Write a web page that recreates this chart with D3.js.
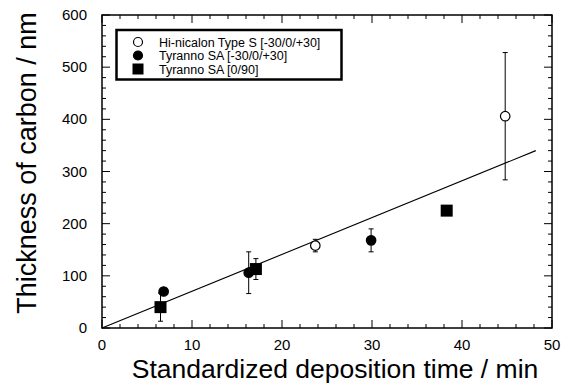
<!DOCTYPE html>
<html>
<head>
<meta charset="utf-8">
<script src="https://cdn.jsdelivr.net/npm/d3@7"></script>
<style>
  html, body { margin: 0; padding: 0; background: #fff; }
  svg { display: block; font-family: "Liberation Sans", Arial, Helvetica, sans-serif; }
</style>
</head>
<body>
<svg id="chart" width="565" height="387"></svg>
<script>
// Carbon thickness vs. standardized deposition time
const seriesNames = ["Hi-nicalon Type S [-30/0/+30]", "Tyranno SA [-30/0/+30]", "Tyranno SA [0/90]"];
const seriesShapes = ["openCircle", "filledCircle", "filledSquare"];

// [time (min), thickness (nm), error (nm)]
const hiNicalon = [[23.7, 158, 12], [44.8, 406, 122]];
const tyrannoSA30 = [[6.85, 70, 0], [16.3, 106, 40], [29.9, 168, 22]];
const tyrannoSA090 = [[6.5, 40, 27], [17.1, 113, 20], [38.3, 225, 0]];

// Linear fit through the origin
const fitLine = [[0, 0], [48.2, 340]];

const xTicks = [0, 10, 20, 30, 40, 50];
const yTicks = [0, 100, 200, 300, 400, 500, 600];
const xMinor = d3.range(0, 50.01, 2);
const yMinor = d3.range(0, 600.01, 20);

const svg = d3.select("#chart");
const L = 102, R = 552, T = 15, B = 328;
const x = d3.scaleLinear().domain([0, 50]).range([L, R]);
const y = d3.scaleLinear().domain([0, 600]).range([B, T]);

const ink = "#000";

// Frame
svg.append("rect").attr("x", L).attr("y", T).attr("width", R - L).attr("height", B - T)
  .attr("fill", "none").attr("stroke", ink).attr("stroke-width", 1.5);

// Inward ticks on all four sides
const tickG = svg.append("g").attr("stroke", ink).attr("stroke-width", 1);
const majorLen = 8, minorLen = 4;
xMinor.forEach(v => {
  const len = xTicks.includes(v) ? majorLen : minorLen;
  tickG.append("line").attr("x1", x(v)).attr("x2", x(v)).attr("y1", B).attr("y2", B - len);
  tickG.append("line").attr("x1", x(v)).attr("x2", x(v)).attr("y1", T).attr("y2", T + len);
});
yMinor.forEach(v => {
  const len = yTicks.includes(v) ? majorLen : minorLen;
  tickG.append("line").attr("x1", L).attr("x2", L + len).attr("y1", y(v)).attr("y2", y(v));
  tickG.append("line").attr("x1", R).attr("x2", R - len).attr("y1", y(v)).attr("y2", y(v));
});

// Tick labels
svg.append("g").selectAll("text").data(xTicks).join("text")
  .attr("x", d => x(d)).attr("y", 350).attr("text-anchor", "middle")
  .attr("font-size", 15).text(d => d);
svg.append("g").selectAll("text").data(yTicks).join("text")
  .attr("x", L - 15).attr("y", d => y(d) + 5).attr("text-anchor", "end")
  .attr("font-size", 15).text(d => d);

// Axis titles
svg.append("text").attr("x", 335).attr("y", 378).attr("text-anchor", "middle")
  .attr("font-size", 26.5).text("Standardized deposition time / min");
svg.append("text").attr("transform", "translate(36,163) rotate(-90)").attr("text-anchor", "middle")
  .attr("font-size", 27).text("Thickness of carbon / nm");

// Fit line
svg.append("path").datum(fitLine)
  .attr("d", d3.line().x(d => x(d[0])).y(d => y(d[1])))
  .attr("fill", "none").attr("stroke", ink).attr("stroke-width", 1.1);

// Marker drawing
function drawMarker(g, shape, cx, cy, size) {
  if (shape === "filledSquare") {
    g.append("rect").attr("x", cx - size / 2).attr("y", cy - size / 2)
      .attr("width", size).attr("height", size).attr("fill", ink);
  } else {
    g.append("circle").attr("cx", cx).attr("cy", cy).attr("r", size / 2)
      .attr("fill", shape === "openCircle" ? "#fff" : ink)
      .attr("stroke", ink).attr("stroke-width", 1.2);
  }
}

function drawSeries(data, shape, size) {
  const g = svg.append("g");
  data.forEach(([t, v, e]) => {
    if (e > 0) {
      const cx = x(t);
      g.append("line").attr("x1", cx).attr("x2", cx).attr("y1", y(v - e)).attr("y2", y(v + e))
        .attr("stroke", ink).attr("stroke-width", 1);
      [v - e, v + e].forEach(w => {
        g.append("line").attr("x1", cx - 2.5).attr("x2", cx + 2.5).attr("y1", y(w)).attr("y2", y(w))
          .attr("stroke", ink).attr("stroke-width", 1);
      });
    }
  });
  data.forEach(([t, v]) => drawMarker(g, shape, x(t), y(v), size));
}

drawSeries(tyrannoSA090, "filledSquare", 12);
drawSeries(tyrannoSA30, "filledCircle", 9.5);
drawSeries(hiNicalon, "openCircle", 9.5);

// Legend
const lg = svg.append("g");
lg.append("rect").attr("x", 116.5).attr("y", 30).attr("width", 225).attr("height", 49.5)
  .attr("fill", "#fff").attr("stroke", ink).attr("stroke-width", 2.5);
const rowY = [42, 55.5, 69];
const legendSizes = [9, 9, 11];
seriesNames.forEach((name, i) => {
  drawMarker(lg, seriesShapes[i], 138, rowY[i], legendSizes[i]);
  lg.append("text").attr("x", 159).attr("y", rowY[i] + 4.5)
    .attr("font-size", 12.5).text(name);
});
</script>
</body>
</html>
